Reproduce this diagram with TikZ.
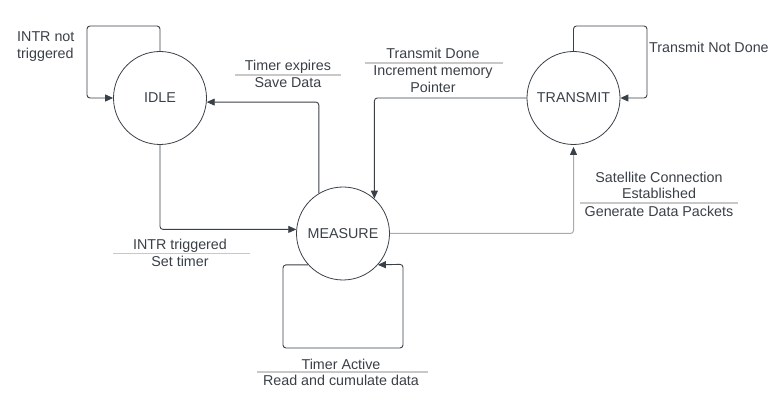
\documentclass[tikz,border=0pt]{standalone}
\usepackage{fontspec}
\setmainfont{Liberation Sans}
\usetikzlibrary{arrows.meta}
\definecolor{ink}{RGB}{58,64,72}
\definecolor{sep}{RGB}{200,200,200}
\begin{document}
\begin{tikzpicture}[x=1pt,y=-1pt,
  every node/.style={font=\fontsize{14.3}{17}\selectfont, text=ink},
  state/.style={circle, draw=ink, line width=0.8pt, minimum size=93pt, inner sep=0pt},
  conn/.style={draw=ink, line width=0.9pt, rounded corners=3pt, -{Triangle[length=8pt,width=7pt]}},
  lconn/.style={draw=sep!85!black, line width=1pt, rounded corners=3pt, -{Triangle[length=8pt,width=7pt,color=ink]}, shorten >=2pt},
  lbl/.style={anchor=base, inner sep=0pt},
  sepline/.style={draw=sep, line width=1.4pt}]
\useasboundingbox (0,0) rectangle (779,403);
\node[state] (idle) at (160,98) {IDLE};
\node[state] (transmit) at (573.5,98) {TRANSMIT};
\node[state] (measure) at (343,233.5) {MEASURE};
% connectors
\draw[conn] (idle.north) |- (87,26) |- (idle.west);
\draw[conn] (measure.121) |- (idle.-5);
\draw[conn] (transmit.west) -| (measure.48);
\draw[conn] (idle.south) |- (measure.175);
\draw[conn] (measure.222) -| (283,348) -| (403,264.3) -- (measure.318);
\draw[lconn] (measure.east) -| (transmit.south);
\draw[conn] (transmit.north) |- (647,26) |- (transmit.east);
% labels
\node[lbl, anchor=base west] (l1a) at (17,41.5) {INTR not};
\node[lbl, anchor=base west] (l1b) at (17,58.5) {triggered};
\node[lbl] (l2a) at (288,70.7) {Timer expires};
\draw[sepline] (235,75) -- (341,75);
\node[lbl] (l2b) at (288,87.7) {Save Data};
\node[lbl] (l3a) at (433,59) {Transmit Done};
\draw[sepline] (365,63) -- (503,63);
\node[lbl] (l3b) at (433,76) {Increment memory};
\node[lbl] (l3c) at (433,93) {Pointer};
\node[lbl, anchor=base west] (l4) at (649,52.3) {Transmit Not Done};
\node[lbl] (l5a) at (180,250) {INTR triggered};
\draw[sepline] (113,253.7) -- (250,253.7);
\node[lbl] (l5b) at (180,266.7) {Set timer};
\node[lbl] (l6a) at (341,369) {Timer Active};
\draw[sepline] (257,372) -- (428,372);
\node[lbl] (l6b) at (341,385.7) {Read and cumulate data};
\node[lbl] (l7a) at (659,182.3) {Satellite Connection};
\node[lbl] (l7b) at (659,199) {Established};
\draw[sepline] (580,203) -- (738,203);
\node[lbl] (l7c) at (659,217) {Generate Data Packets};
\end{tikzpicture}
\end{document}
